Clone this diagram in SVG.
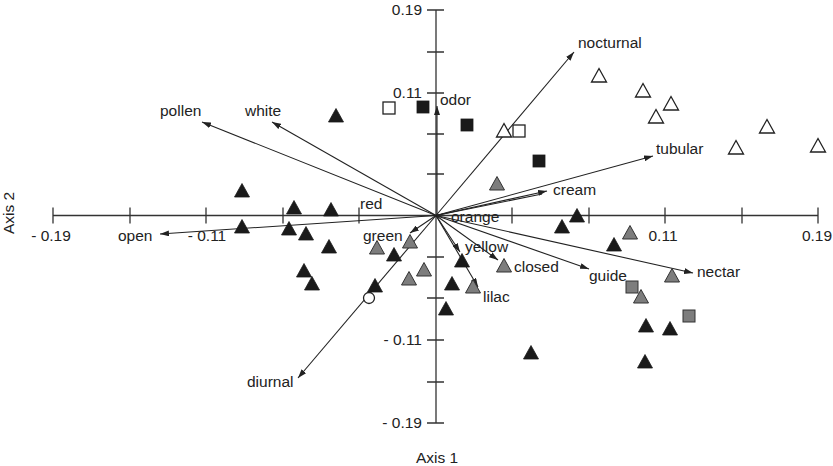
<svg xmlns="http://www.w3.org/2000/svg" xmlns:xlink="http://www.w3.org/1999/xlink" width="833" height="466" viewBox="0 0 833 466">
<style>
text{font-family:"Liberation Sans",Arial,sans-serif;font-size:15.5px;fill:#222}
.ax{stroke:#333;stroke-width:1.3;fill:none}
.vec{stroke:#222;stroke-width:1.1;fill:none;marker-end:url(#ah)}
.blk{fill:#1a1a1a;stroke:#1a1a1a;stroke-width:0.8}
.gry{fill:#7d7d7d;stroke:#333;stroke-width:1}
.opn{fill:#fff;stroke:#222;stroke-width:1.3}
</style>
<defs>
<marker id="ah" markerUnits="userSpaceOnUse" markerWidth="9" markerHeight="6" refX="9" refY="3" orient="auto">
<path d="M0,0 L9,3 L0,6 Z" fill="#222"/>
</marker>
<path id="tri" d="M0,-8.5 L7.5,5 L-7.5,5 Z"/>
<rect id="sq" x="-6" y="-6" width="12" height="12"/>
</defs>
<rect width="833" height="466" fill="#fff"/>
<g id="axes">
<path class="ax" d="M53,215.5 H818 M436,10 V423"/>
<path class="ax" d="M53,207.5 v16 M130,207.5 v16 M206,207.5 v16 M283,207.5 v16 M359,207.5 v16 M512,207.5 v16 M589,207.5 v16 M665,207.5 v16 M742,207.5 v16 M818,207.5 v16"/>
<path class="ax" d="M427,10 h17 M427,52 h17 M427,93 h17 M427,134 h17 M427,174 h17 M427,257 h17 M427,298 h17 M427,340 h17 M427,382 h17 M427,423 h17"/>
<text x="51" y="241" text-anchor="middle">- 0.19</text>
<text x="207" y="241" text-anchor="middle">- 0.11</text>
<text x="663" y="241" text-anchor="middle">0.11</text>
<text x="817" y="241" text-anchor="middle">0.19</text>
<text x="422" y="15" text-anchor="end">0.19</text>
<text x="422" y="98" text-anchor="end">0.11</text>
<text x="422" y="345" text-anchor="end">- 0.11</text>
<text x="422" y="428" text-anchor="end">- 0.19</text>
<text x="437" y="463" text-anchor="middle">Axis 1</text>
<text x="14" y="213" text-anchor="middle" transform="rotate(-90 14 213)">Axis 2</text>
</g>
<g id="connectors">
<path class="vec" d="M436,215.5 L202,122"/>
<path class="vec" d="M436,215.5 L272,122"/>
<path class="vec" d="M436,215.5 L160,234"/>
<path class="vec" d="M436,215.5 L574,52"/>
<path class="vec" d="M436,215.5 L653,156"/>
<path class="vec" d="M436,215.5 L547,191"/>
<path class="ax" style="stroke:#222;stroke-width:1.1" d="M436,215.5 L542,194"/>
<path class="vec" d="M437,215.5 L437,106"/>
<path class="vec" d="M436,215.5 L460,252"/>
<path class="vec" d="M436,215.5 L478,287"/>
<path class="vec" d="M436,215.5 L498,260"/>
<path class="vec" d="M436,215.5 L589,269"/>
<path class="vec" d="M436,215.5 L693,273"/>
<path class="vec" d="M436,215.5 L298,378"/>
<path class="vec" d="M436,215.5 L410,233"/>
</g>
<g id="vector-labels">
<text x="160" y="116">pollen</text>
<text x="245" y="116">white</text>
<text x="118" y="241">open</text>
<text x="578" y="48">nocturnal</text>
<text x="656" y="154">tubular</text>
<text x="553" y="195">cream</text>
<text x="440" y="105">odor</text>
<text x="360" y="209">red</text>
<text x="451" y="222">orange</text>
<text x="363" y="241">green</text>
<text x="465" y="252">yellow</text>
<text x="483" y="302">lilac</text>
<text x="514" y="272">closed</text>
<text x="589" y="281">guide</text>
<text x="697" y="277">nectar</text>
<text x="247" y="387">diurnal</text>
</g>
<g id="black-triangles" class="blk">
<use xlink:href="#tri" x="336" y="117"/>
<use xlink:href="#tri" x="242" y="192"/>
<use xlink:href="#tri" x="294" y="209"/>
<use xlink:href="#tri" x="331" y="211"/>
<use xlink:href="#tri" x="242" y="228"/>
<use xlink:href="#tri" x="289" y="230"/>
<use xlink:href="#tri" x="306" y="235"/>
<use xlink:href="#tri" x="329" y="248"/>
<use xlink:href="#tri" x="304" y="272"/>
<use xlink:href="#tri" x="312" y="285"/>
<use xlink:href="#tri" x="375" y="287"/>
<use xlink:href="#tri" x="394" y="256"/>
<use xlink:href="#tri" x="462" y="262"/>
<use xlink:href="#tri" x="452" y="285"/>
<use xlink:href="#tri" x="446" y="310"/>
<use xlink:href="#tri" x="531" y="354"/>
<use xlink:href="#tri" x="577" y="217"/>
<use xlink:href="#tri" x="562" y="228"/>
<use xlink:href="#tri" x="614" y="246"/>
<use xlink:href="#tri" x="646" y="327"/>
<use xlink:href="#tri" x="670" y="330"/>
<use xlink:href="#tri" x="645" y="363"/>
</g>
<g id="grey-triangles" class="gry">
<use xlink:href="#tri" x="497" y="185"/>
<use xlink:href="#tri" x="377" y="249"/>
<use xlink:href="#tri" x="410" y="243"/>
<use xlink:href="#tri" x="424" y="271"/>
<use xlink:href="#tri" x="409" y="280"/>
<use xlink:href="#tri" x="473" y="288"/>
<use xlink:href="#tri" x="504" y="267"/>
<use xlink:href="#tri" x="630" y="234"/>
<use xlink:href="#tri" x="672" y="277"/>
<use xlink:href="#tri" x="641" y="298"/>
</g>
<g id="grey-squares" class="gry">
<use xlink:href="#sq" x="632" y="287"/>
<use xlink:href="#sq" x="689" y="316"/>
</g>
<g id="black-squares" class="blk">
<use xlink:href="#sq" x="423" y="107"/>
<use xlink:href="#sq" x="467" y="125"/>
<use xlink:href="#sq" x="539" y="161"/>
</g>
<g id="open-squares" class="opn">
<use xlink:href="#sq" x="389" y="108"/>
<use xlink:href="#sq" x="519" y="131"/>
</g>
<g id="open-triangles" class="opn">
<use xlink:href="#tri" x="504" y="132"/>
<use xlink:href="#tri" x="599" y="77"/>
<use xlink:href="#tri" x="643" y="92"/>
<use xlink:href="#tri" x="671" y="105"/>
<use xlink:href="#tri" x="656" y="118"/>
<use xlink:href="#tri" x="767" y="128"/>
<use xlink:href="#tri" x="736" y="149"/>
<use xlink:href="#tri" x="818" y="147"/>
</g>
<g id="open-circle" class="opn">
<circle cx="369" cy="298" r="5.5"/>
</g>
</svg>
